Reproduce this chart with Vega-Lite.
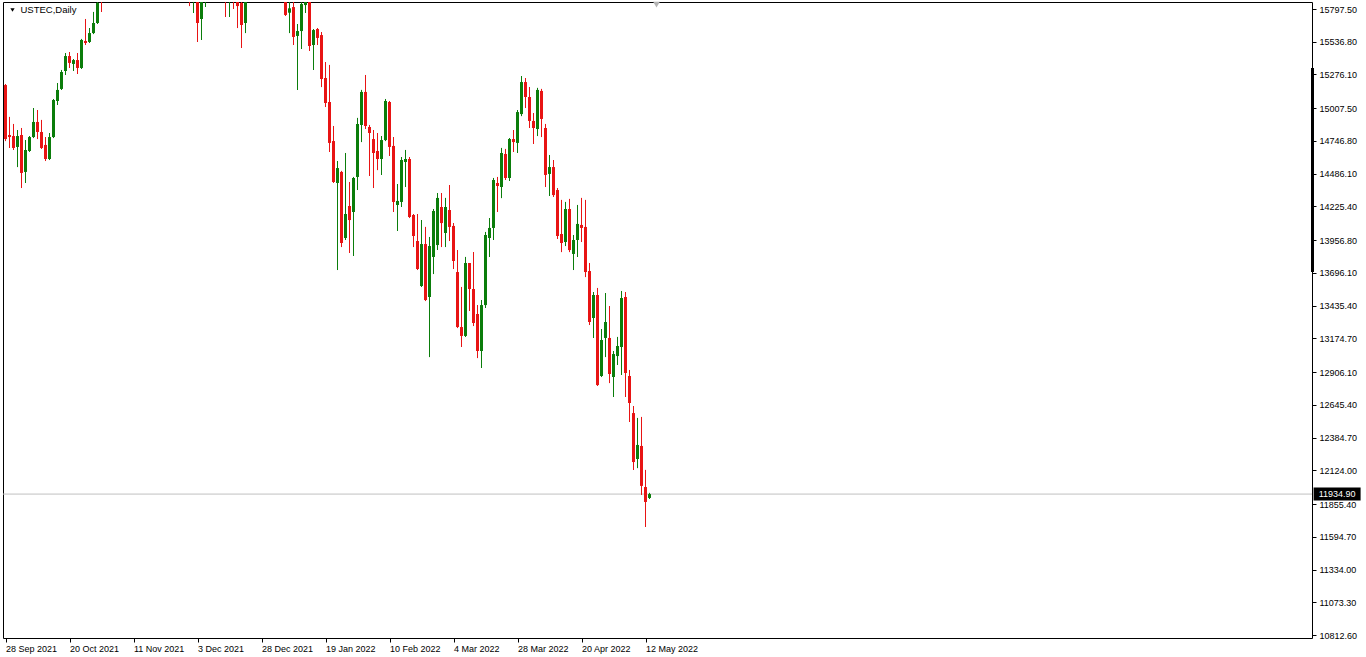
{
"$schema":"https://vega.github.io/schema/vega-lite/v6.json",
"width":1309,"height":636,
"autosize":{"type":"none"},
"padding":{"left":3,"top":2,"right":54,"bottom":19},
"background":"white",
"config":{"view":{"stroke":"#000","strokeWidth":1},"font":"Liberation Sans"},
"resolve":{"axis":{"x":"independent","y":"independent"}},
"datasets":{
"candles":[
{"i":0,"date":"2021-09-28","open":15192,"high":15200,"low":14746,"close":14762},
{"i":1,"date":"2021-09-29","open":14794,"high":14938,"low":14691,"close":14778},
{"i":2,"date":"2021-09-30","open":14786,"high":14882,"low":14675,"close":14691},
{"i":3,"date":"2021-10-01","open":14699,"high":14834,"low":14539,"close":14786},
{"i":4,"date":"2021-10-04","open":14794,"high":14850,"low":14372,"close":14492},
{"i":5,"date":"2021-10-05","open":14500,"high":14754,"low":14412,"close":14675},
{"i":6,"date":"2021-10-06","open":14667,"high":14786,"low":14659,"close":14778},
{"i":7,"date":"2021-10-07","open":14778,"high":15009,"low":14770,"close":14898},
{"i":8,"date":"2021-10-08","open":14898,"high":14993,"low":14762,"close":14818},
{"i":9,"date":"2021-10-11","open":14818,"high":14914,"low":14683,"close":14691},
{"i":10,"date":"2021-10-12","open":14715,"high":14778,"low":14587,"close":14603},
{"i":11,"date":"2021-10-13","open":14603,"high":14810,"low":14595,"close":14778},
{"i":12,"date":"2021-10-14","open":14778,"high":15081,"low":14770,"close":15073},
{"i":13,"date":"2021-10-15","open":15065,"high":15208,"low":15033,"close":15153},
{"i":14,"date":"2021-10-18","open":15161,"high":15312,"low":15153,"close":15296},
{"i":15,"date":"2021-10-19","open":15304,"high":15447,"low":15272,"close":15423},
{"i":16,"date":"2021-10-20","open":15423,"high":15455,"low":15328,"close":15368},
{"i":17,"date":"2021-10-21","open":15360,"high":15399,"low":15304,"close":15391},
{"i":18,"date":"2021-10-22","open":15391,"high":15447,"low":15280,"close":15328},
{"i":19,"date":"2021-10-25","open":15328,"high":15559,"low":15320,"close":15551},
{"i":20,"date":"2021-10-26","open":15543,"high":15718,"low":15511,"close":15527},
{"i":21,"date":"2021-10-27","open":15535,"high":15646,"low":15527,"close":15606},
{"i":22,"date":"2021-10-28","open":15606,"high":15774,"low":15598,"close":15686},
{"i":23,"date":"2021-10-29","open":15686,"high":15900,"low":15678,"close":15845},
{"i":24,"date":"2021-11-01","open":15960,"high":16000,"low":15774,"close":15900},
{"i":25,"date":"2021-11-02","open":15930,"high":16060,"low":15890,"close":16040},
{"i":26,"date":"2021-11-03","open":16040,"high":16230,"low":15960,"close":16210},
{"i":27,"date":"2021-11-04","open":16210,"high":16400,"low":16190,"close":16380},
{"i":28,"date":"2021-11-05","open":16380,"high":16480,"low":16310,"close":16390},
{"i":29,"date":"2021-11-08","open":16390,"high":16450,"low":16330,"close":16370},
{"i":30,"date":"2021-11-09","open":16370,"high":16410,"low":16230,"close":16300},
{"i":31,"date":"2021-11-10","open":16300,"high":16330,"low":15920,"close":16000},
{"i":32,"date":"2021-11-11","open":16000,"high":16090,"low":15980,"close":16060},
{"i":33,"date":"2021-11-12","open":16060,"high":16220,"low":16030,"close":16200},
{"i":34,"date":"2021-11-15","open":16200,"high":16250,"low":16120,"close":16190},
{"i":35,"date":"2021-11-16","open":16190,"high":16340,"low":16170,"close":16310},
{"i":36,"date":"2021-11-17","open":16310,"high":16370,"low":16280,"close":16320},
{"i":37,"date":"2021-11-18","open":16320,"high":16520,"low":16300,"close":16500},
{"i":38,"date":"2021-11-19","open":16500,"high":16620,"low":16480,"close":16580},
{"i":39,"date":"2021-11-22","open":16580,"high":16770,"low":16380,"close":16400},
{"i":40,"date":"2021-11-23","open":16400,"high":16420,"low":16150,"close":16340},
{"i":41,"date":"2021-11-24","open":16340,"high":16390,"low":16150,"close":16370},
{"i":42,"date":"2021-11-25","open":16370,"high":16410,"low":16350,"close":16390},
{"i":43,"date":"2021-11-26","open":16390,"high":16400,"low":15990,"close":16050},
{"i":44,"date":"2021-11-29","open":16050,"high":16420,"low":16040,"close":16380},
{"i":45,"date":"2021-11-30","open":16380,"high":16460,"low":16040,"close":16140},
{"i":46,"date":"2021-12-01","open":16140,"high":16450,"low":15821,"close":15860},
{"i":47,"date":"2021-12-02","open":15860,"high":16080,"low":15766,"close":16050},
{"i":48,"date":"2021-12-03","open":16060,"high":16150,"low":15535,"close":15686},
{"i":49,"date":"2021-12-06","open":15718,"high":15920,"low":15551,"close":15880},
{"i":50,"date":"2021-12-07","open":15880,"high":16280,"low":15814,"close":16250},
{"i":51,"date":"2021-12-08","open":16250,"high":16320,"low":16140,"close":16290},
{"i":52,"date":"2021-12-09","open":16290,"high":16300,"low":16020,"close":16040},
{"i":53,"date":"2021-12-10","open":16040,"high":16220,"low":15990,"close":16200},
{"i":54,"date":"2021-12-13","open":16200,"high":16240,"low":15990,"close":16010},
{"i":55,"date":"2021-12-14","open":16010,"high":16030,"low":15734,"close":15880},
{"i":56,"date":"2021-12-15","open":15880,"high":16250,"low":15734,"close":16240},
{"i":57,"date":"2021-12-16","open":16240,"high":16400,"low":15798,"close":15880},
{"i":58,"date":"2021-12-17","open":15880,"high":15960,"low":15646,"close":15821},
{"i":59,"date":"2021-12-20","open":15845,"high":15880,"low":15487,"close":15670},
{"i":60,"date":"2021-12-21","open":15686,"high":15920,"low":15606,"close":15900},
{"i":61,"date":"2021-12-22","open":15900,"high":16060,"low":15860,"close":16050},
{"i":62,"date":"2021-12-23","open":16050,"high":16200,"low":16030,"close":16170},
{"i":63,"date":"2021-12-27","open":16170,"high":16420,"low":16160,"close":16410},
{"i":64,"date":"2021-12-28","open":16410,"high":16470,"low":16310,"close":16330},
{"i":65,"date":"2021-12-29","open":16330,"high":16400,"low":16280,"close":16340},
{"i":66,"date":"2021-12-30","open":16340,"high":16420,"low":16290,"close":16300},
{"i":67,"date":"2021-12-31","open":16300,"high":16360,"low":16280,"close":16320},
{"i":68,"date":"2022-01-03","open":16320,"high":16520,"low":16260,"close":16500},
{"i":69,"date":"2022-01-04","open":16500,"high":16570,"low":16160,"close":16280},
{"i":70,"date":"2022-01-05","open":16280,"high":16300,"low":15742,"close":15750},
{"i":71,"date":"2022-01-06","open":15768,"high":15880,"low":15606,"close":15803},
{"i":72,"date":"2022-01-07","open":15813,"high":15870,"low":15511,"close":15575},
{"i":73,"date":"2022-01-10","open":15583,"high":15678,"low":15153,"close":15622},
{"i":74,"date":"2022-01-11","open":15622,"high":15850,"low":15479,"close":15837},
{"i":75,"date":"2022-01-12","open":15829,"high":15940,"low":15766,"close":15870},
{"i":76,"date":"2022-01-13","open":15900,"high":15950,"low":15463,"close":15503},
{"i":77,"date":"2022-01-14","open":15511,"high":15638,"low":15312,"close":15630},
{"i":78,"date":"2022-01-17","open":15638,"high":15646,"low":15511,"close":15567},
{"i":79,"date":"2022-01-18","open":15590,"high":15614,"low":15176,"close":15240},
{"i":80,"date":"2022-01-19","open":15248,"high":15375,"low":15017,"close":15049},
{"i":81,"date":"2022-01-20","open":15057,"high":15352,"low":14659,"close":14731},
{"i":82,"date":"2022-01-21","open":14746,"high":14866,"low":14412,"close":14420},
{"i":83,"date":"2022-01-24","open":14412,"high":14587,"low":13719,"close":14531},
{"i":84,"date":"2022-01-25","open":14500,"high":14508,"low":13902,"close":13934},
{"i":85,"date":"2022-01-26","open":13974,"high":14651,"low":13958,"close":14165},
{"i":86,"date":"2022-01-27","open":14229,"high":14420,"low":13855,"close":14117},
{"i":87,"date":"2022-01-28","open":14181,"high":14460,"low":13831,"close":14452},
{"i":88,"date":"2022-01-31","open":14460,"high":14930,"low":14356,"close":14882},
{"i":89,"date":"2022-02-01","open":14874,"high":15153,"low":14738,"close":15137},
{"i":90,"date":"2022-02-02","open":15137,"high":15272,"low":14842,"close":14866},
{"i":91,"date":"2022-02-03","open":14858,"high":14874,"low":14468,"close":14810},
{"i":92,"date":"2022-02-04","open":14762,"high":14834,"low":14372,"close":14651},
{"i":93,"date":"2022-02-07","open":14667,"high":14810,"low":14515,"close":14603},
{"i":94,"date":"2022-02-08","open":14603,"high":14786,"low":14476,"close":14754},
{"i":95,"date":"2022-02-09","open":14754,"high":15081,"low":14746,"close":15065},
{"i":96,"date":"2022-02-10","open":15057,"high":15065,"low":14627,"close":14699},
{"i":97,"date":"2022-02-11","open":14707,"high":14778,"low":14181,"close":14261},
{"i":98,"date":"2022-02-14","open":14237,"high":14404,"low":14030,"close":14269},
{"i":99,"date":"2022-02-15","open":14261,"high":14619,"low":14221,"close":14595},
{"i":100,"date":"2022-02-16","open":14579,"high":14675,"low":14380,"close":14603},
{"i":101,"date":"2022-02-17","open":14603,"high":14619,"low":14133,"close":14141},
{"i":102,"date":"2022-02-18","open":14157,"high":14165,"low":13902,"close":13990},
{"i":103,"date":"2022-02-21","open":13950,"high":14165,"low":13719,"close":13727},
{"i":104,"date":"2022-02-22","open":13592,"high":14117,"low":13584,"close":13926},
{"i":105,"date":"2022-02-23","open":13926,"high":14062,"low":13472,"close":13480},
{"i":106,"date":"2022-02-24","open":13504,"high":13982,"low":13026,"close":13910},
{"i":107,"date":"2022-02-25","open":13823,"high":14205,"low":13687,"close":14189},
{"i":108,"date":"2022-02-28","open":13918,"high":14332,"low":13879,"close":14293},
{"i":109,"date":"2022-03-01","open":14221,"high":14332,"low":13902,"close":14093},
{"i":110,"date":"2022-03-02","open":14014,"high":14293,"low":13902,"close":14221},
{"i":111,"date":"2022-03-03","open":14197,"high":14396,"low":13950,"close":14062},
{"i":112,"date":"2022-03-04","open":14070,"high":14093,"low":13727,"close":13791},
{"i":113,"date":"2022-03-07","open":13703,"high":13878,"low":13257,"close":13265},
{"i":114,"date":"2022-03-08","open":13265,"high":13584,"low":13106,"close":13194},
{"i":115,"date":"2022-03-09","open":13194,"high":13823,"low":13186,"close":13775},
{"i":116,"date":"2022-03-10","open":13775,"high":13775,"low":13393,"close":13568},
{"i":117,"date":"2022-03-11","open":13568,"high":13862,"low":13273,"close":13297},
{"i":118,"date":"2022-03-14","open":13369,"high":13440,"low":13018,"close":13074},
{"i":119,"date":"2022-03-15","open":13074,"high":13480,"low":12939,"close":13440},
{"i":120,"date":"2022-03-16","open":13440,"high":14022,"low":13417,"close":13998},
{"i":121,"date":"2022-03-17","open":13974,"high":14133,"low":13823,"close":14054},
{"i":122,"date":"2022-03-18","open":14054,"high":14452,"low":13958,"close":14436},
{"i":123,"date":"2022-03-21","open":14412,"high":14460,"low":14181,"close":14388},
{"i":124,"date":"2022-03-22","open":14380,"high":14691,"low":14292,"close":14651},
{"i":125,"date":"2022-03-23","open":14643,"high":14683,"low":14436,"close":14452},
{"i":126,"date":"2022-03-24","open":14452,"high":14770,"low":14428,"close":14762},
{"i":127,"date":"2022-03-25","open":14762,"high":14834,"low":14659,"close":14738},
{"i":128,"date":"2022-03-28","open":14731,"high":14993,"low":14651,"close":14977},
{"i":129,"date":"2022-03-29","open":14961,"high":15264,"low":14945,"close":15216},
{"i":130,"date":"2022-03-30","open":15216,"high":15248,"low":15009,"close":15097},
{"i":131,"date":"2022-03-31","open":15097,"high":15176,"low":14850,"close":14906},
{"i":132,"date":"2022-04-01","open":14906,"high":14969,"low":14723,"close":14850},
{"i":133,"date":"2022-04-04","open":14842,"high":15169,"low":14786,"close":15153},
{"i":134,"date":"2022-04-05","open":15145,"high":15161,"low":14778,"close":14922},
{"i":135,"date":"2022-04-06","open":14850,"high":14882,"low":14380,"close":14476},
{"i":136,"date":"2022-04-07","open":14484,"high":14635,"low":14309,"close":14539},
{"i":137,"date":"2022-04-08","open":14539,"high":14595,"low":14301,"close":14316},
{"i":138,"date":"2022-04-11","open":14356,"high":14372,"low":13966,"close":13990},
{"i":139,"date":"2022-04-12","open":14006,"high":14277,"low":13862,"close":13934},
{"i":140,"date":"2022-04-13","open":13942,"high":14261,"low":13910,"close":14205},
{"i":141,"date":"2022-04-14","open":14205,"high":14285,"low":13862,"close":13878},
{"i":142,"date":"2022-04-18","open":13847,"high":13998,"low":13719,"close":13958},
{"i":143,"date":"2022-04-19","open":13958,"high":14237,"low":13823,"close":14086},
{"i":144,"date":"2022-04-20","open":14078,"high":14293,"low":13942,"close":14054},
{"i":145,"date":"2022-04-21","open":14062,"high":14277,"low":13663,"close":13703},
{"i":146,"date":"2022-04-22","open":13711,"high":13775,"low":13281,"close":13305},
{"i":147,"date":"2022-04-25","open":13337,"high":13544,"low":13178,"close":13520},
{"i":148,"date":"2022-04-26","open":13520,"high":13576,"low":12796,"close":12803},
{"i":149,"date":"2022-04-27","open":12875,"high":13249,"low":12867,"close":13162},
{"i":150,"date":"2022-04-28","open":13178,"high":13536,"low":13026,"close":13305},
{"i":151,"date":"2022-04-29","open":13178,"high":13432,"low":12819,"close":12891},
{"i":152,"date":"2022-05-02","open":12867,"high":13074,"low":12708,"close":13050},
{"i":153,"date":"2022-05-03","open":13034,"high":13186,"low":12963,"close":13114},
{"i":154,"date":"2022-05-04","open":13106,"high":13552,"low":12883,"close":13496},
{"i":155,"date":"2022-05-05","open":13504,"high":13544,"low":12708,"close":12899},
{"i":156,"date":"2022-05-06","open":12875,"high":12923,"low":12509,"close":12660},
{"i":157,"date":"2022-05-09","open":12580,"high":12636,"low":12127,"close":12190},
{"i":158,"date":"2022-05-10","open":12214,"high":12541,"low":12142,"close":12326},
{"i":159,"date":"2022-05-11","open":12318,"high":12549,"low":11928,"close":12000},
{"i":160,"date":"2022-05-12","open":11991,"high":12127,"low":11673,"close":11872},
{"i":161,"date":"2022-05-13","open":11904,"high":11944,"low":11896,"close":11934.9}
],
"last":[{"price":11934.9,"label":"11934.90","pos":332.9}],
"title":[{"label":"USTEC,Daily","pos":3.75,"level":15789.6,"marker":1.75}],
"scroll":[{"pos":326.75,"top":15327.7,"bottom":13703.2}],
"shift":[{"pos":162.75,"level":15833}]
},
"layer":[
{"data":{"name":"candles"},
 "mark":{"type":"rule","clip":true,"strokeWidth":1},
 "encoding":{
  "x":{"field":"i","type":"quantitative","scale":{"domain":[-0.625,326.625],"nice":false,"zero":false,"padding":0},
   "axis":{"values":[0,16,32,48,64,80,96,112,128,144,160],
    "labelExpr":"['28 Sep 2021','20 Oct 2021','11 Nov 2021','3 Dec 2021','28 Dec 2021','19 Jan 2022','10 Feb 2022','4 Mar 2022','28 Mar 2022','20 Apr 2022','12 May 2022'][round(datum.value/16)]",
    "grid":false,"domain":false,"ticks":true,"tickColor":"#000","tickSize":4,"tickWidth":1,
    "labelAlign":"left","labelBaseline":"top","labelPadding":2,"labelFont":"Liberation Sans","labelFontSize":9,"labelColor":"#000",
    "labelFlush":false,"labelOverlap":false,"title":null}},
  "y":{"field":"low","type":"quantitative","scale":{"domain":[10788.8,15853.3],"nice":false,"zero":false,"padding":0},
   "axis":{"orient":"right","values":[15797.5,15536.8,15276.1,15007.5,14746.8,14486.1,14225.4,13956.8,13696.1,13435.4,13174.7,12906.1,12645.4,12384.7,12124.0,11855.4,11594.7,11334.0,11073.3,10812.6],
    "format":".2f","grid":false,"domain":false,"ticks":true,"tickColor":"#000","tickSize":4,"tickWidth":1,
    "labelPadding":3,"labelFont":"Liberation Sans","labelFontSize":9,"labelColor":"#000","labelBaseline":"middle",
    "labelFlush":false,"labelOverlap":false,"title":null}},
  "y2":{"field":"high"},
  "color":{"condition":{"test":"datum.close >= datum.open","value":"#0b7d0b"},"value":"#e81414"}}},
{"data":{"name":"last"},
 "mark":{"type":"rule","color":"#c0c0c0","strokeWidth":1},
 "encoding":{"y":{"field":"price","type":"quantitative","scale":{"domain":[10788.8,15853.3],"nice":false,"zero":false,"padding":0},"axis":null}}},
{"data":{"name":"candles"},
 "mark":{"type":"rule","clip":true,"strokeWidth":1},
 "encoding":{
  "x":{"field":"i","type":"quantitative","scale":{"domain":[-0.625,326.625],"nice":false,"zero":false,"padding":0},"axis":null},
  "y":{"field":"low","type":"quantitative","scale":{"domain":[10788.8,15853.3],"nice":false,"zero":false,"padding":0},"axis":null},
  "y2":{"field":"high"},
  "color":{"condition":{"test":"datum.close >= datum.open","value":"#0b7d0b"},"value":"#e81414"}}},
{"data":{"name":"candles"},
 "mark":{"type":"bar","clip":true,"width":3},
 "encoding":{
  "x":{"field":"i","type":"quantitative","scale":{"domain":[-0.625,326.625],"nice":false,"zero":false,"padding":0},"axis":null},
  "y":{"field":"open","type":"quantitative","scale":{"domain":[10788.8,15853.3],"nice":false,"zero":false,"padding":0},"axis":null},
  "y2":{"field":"close"},
  "color":{"condition":{"test":"datum.close >= datum.open","value":"#0b7d0b"},"value":"#e81414"}}},
{"data":{"name":"scroll"},
 "mark":{"type":"rule","color":"#000","strokeWidth":3},
 "encoding":{
  "x":{"field":"pos","type":"quantitative","scale":{"domain":[-0.625,326.625],"nice":false,"zero":false,"padding":0},"axis":null},
  "y":{"field":"top","type":"quantitative","scale":{"domain":[10788.8,15853.3],"nice":false,"zero":false,"padding":0},"axis":null},
  "y2":{"field":"bottom"}}},
{"data":{"name":"last"},
 "mark":{"type":"tick","orient":"horizontal","size":47,"thickness":13,"color":"#000","opacity":1},
 "encoding":{
  "x":{"field":"pos","type":"quantitative","scale":{"domain":[-0.625,326.625],"nice":false,"zero":false,"padding":0},"axis":null},
  "y":{"field":"price","type":"quantitative","scale":{"domain":[10788.8,15853.3],"nice":false,"zero":false,"padding":0},"axis":null}}},
{"data":{"name":"last"},
 "mark":{"type":"text","color":"#fff","font":"Liberation Sans","fontSize":9,"align":"center","baseline":"middle"},
 "encoding":{
  "x":{"field":"pos","type":"quantitative","scale":{"domain":[-0.625,326.625],"nice":false,"zero":false,"padding":0},"axis":null},
  "y":{"field":"price","type":"quantitative","scale":{"domain":[10788.8,15853.3],"nice":false,"zero":false,"padding":0},"axis":null},
  "text":{"field":"label"}}},
{"data":{"name":"title"},
 "mark":{"type":"text","color":"#000","font":"Liberation Sans","fontSize":9.5,"align":"left","baseline":"middle"},
 "encoding":{
  "x":{"field":"pos","type":"quantitative","scale":{"domain":[-0.625,326.625],"nice":false,"zero":false,"padding":0},"axis":null},
  "y":{"field":"level","type":"quantitative","scale":{"domain":[10788.8,15853.3],"nice":false,"zero":false,"padding":0},"axis":null},
  "text":{"field":"label"}}},
{"data":{"name":"title"},
 "mark":{"type":"point","shape":"triangle-down","filled":true,"color":"#000","size":18,"opacity":1},
 "encoding":{
  "x":{"field":"marker","type":"quantitative","scale":{"domain":[-0.625,326.625],"nice":false,"zero":false,"padding":0},"axis":null},
  "y":{"field":"level","type":"quantitative","scale":{"domain":[10788.8,15853.3],"nice":false,"zero":false,"padding":0},"axis":null}}},
{"data":{"name":"shift"},
 "mark":{"type":"point","shape":"triangle-down","filled":true,"color":"#b4b4b4","size":45,"opacity":1},
 "encoding":{
  "x":{"field":"pos","type":"quantitative","scale":{"domain":[-0.625,326.625],"nice":false,"zero":false,"padding":0},"axis":null},
  "y":{"field":"level","type":"quantitative","scale":{"domain":[10788.8,15853.3],"nice":false,"zero":false,"padding":0},"axis":null}}}
]
}
